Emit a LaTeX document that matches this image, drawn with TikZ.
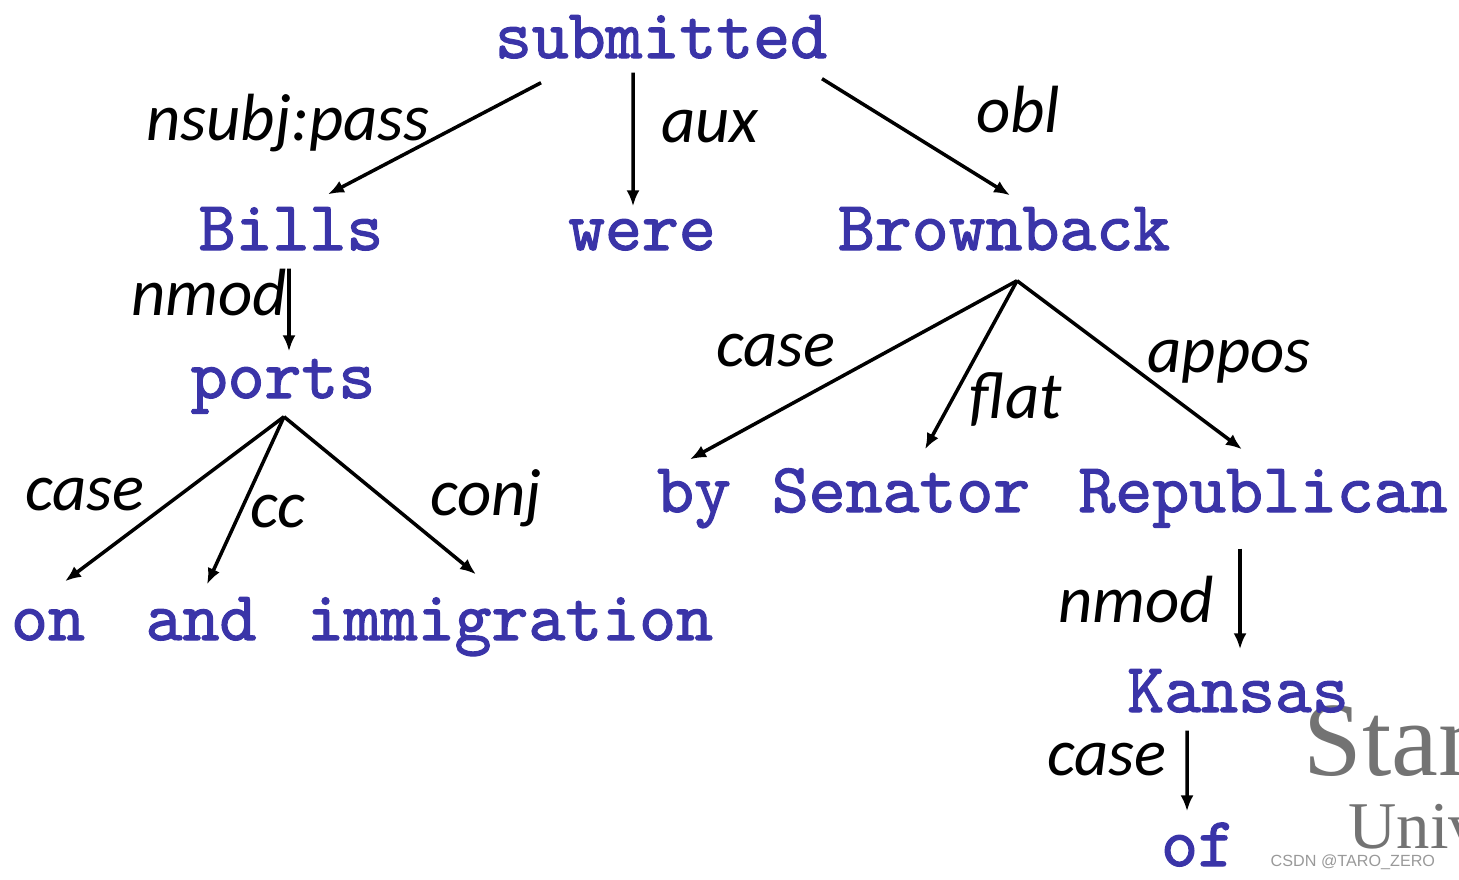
\documentclass[tikz,border=0pt]{standalone}
\usepackage{fontspec}
\usepackage{xcolor}
\usetikzlibrary{arrows.meta}
\newfontfamily\wordfont{lmmono10-regular.otf}[FakeBold=1.6]
\newfontfamily\relfont{Carlito}
\newfontfamily\logofont{Liberation Serif}
\newfontfamily\markfont{Liberation Sans}
\definecolor{wordblue}{RGB}{58,52,168}

\begin{document}
\begin{tikzpicture}[
			word/.style={anchor=base, inner sep=0pt, text height=0.42cm, text depth=0.14cm, text=wordblue, font=\wordfont\fontsize{20}{22}\selectfont},
			rel/.style={anchor=base, inner sep=0pt, font=\relfont\itshape\fontsize{19}{22}\selectfont},
			arr/.style={-{Latex[length=1.6mm,width=1.3mm]}, line width=1pt}
		]
		\useasboundingbox (0,0) rectangle (14.59,-8.79);
		\clip (0,0) rectangle (14.59,-8.79);

		\node[anchor=base west, inner sep=0pt, text=black!55, font=\logofont\fontsize{30}{32}\selectfont] (logoA) at (13.03,-7.75) {Stanford};
		\node[anchor=base west, inner sep=0pt, text=black!55, font=\logofont\fontsize{19}{22}\selectfont] (logoB) at (13.48,-8.48) {University};

		\node[word] (submitted) at (6.61,-0.58) {submitted};
		\node[word] (Bills) at (2.91,-2.50) {Bills};
		\node[word] (were) at (6.42,-2.50) {were};
		\node[word] (Brownback) at (10.04,-2.50) {Brownback};
		\node[word] (ports) at (2.83,-3.98) {ports};
		\node[word] (by) at (6.94,-5.12) {by};
		\node[word] (Senator) at (9.01,-5.12) {Senator};
		\node[word] (Republican) at (12.63,-5.12) {Republican};
		\node[word] (on) at (0.48,-6.40) {on};
		\node[word] (and) at (2.01,-6.40) {and};
		\node[word] (immigration) at (5.10,-6.40) {immigration};
		\node[word] (Kansas) at (12.38,-7.12) {Kansas};
		\node[word] (of) at (11.98,-8.66) {of};

		\node[rel] (lnsubj) at (2.88,-1.40) {nsubj:pass};
		\node[rel] (laux) at (7.10,-1.42) {aux};
		\node[rel] (lobl) at (10.18,-1.32) {obl};
		\node[rel] (lnmodA) at (2.09,-3.15) {nmod};
		\node[rel] (lcaseA) at (7.76,-3.66) {case};
		\node[rel] (lflat) at (10.16,-4.18) {flat};
		\node[rel] (lappos) at (12.29,-3.72) {appos};
		\node[rel] (lcaseB) at (0.85,-5.10) {case};
		\node[rel] (lcc) at (2.78,-5.27) {cc};
		\node[rel] (lconj) at (4.86,-5.15) {conj};
		\node[rel] (lnmodB) at (11.36,-6.22) {nmod};
		\node[rel] (lcaseC) at (11.07,-7.75) {case};

		\coordinate (bbfoot) at ([shift={(0.13,-0.16)}]Brownback.south);
		\coordinate (ptfoot) at ([shift={(0.01,-0.04)}]ports.south);

		\draw[arr] ([shift={(-1.20,-0.10)}]submitted.south) -- ([shift={(0.37,0.13)}]Bills.north);
		\draw[arr] ([shift={(-0.28,0)}]submitted.south) -- ([shift={(-0.09,0.01)}]were.north);
		\draw[arr] ([shift={(1.61,-0.06)}]submitted.south) -- ([shift={(0.06,0.12)}]Brownback.north);
		\draw[arr] ([shift={(-0.02,-0.04)}]Bills.south) -- ([shift={(0.06,0.04)}]ports.north);

		\draw[arr] (bbfoot) -- ([shift={(-0.04,0.10)}]by.north);
		\draw[arr] (bbfoot) -- ([shift={(0.24,0.20)}]Senator.north);
		\draw[arr] (bbfoot) -- ([shift={(-0.21,0.20)}]Republican.north);

		\draw[arr] (ptfoot) -- ([shift={(0.17,0.16)}]on.north);
		\draw[arr] (ptfoot) -- ([shift={(0.06,0.13)}]and.north);
		\draw[arr] (ptfoot) -- ([shift={(-0.34,0.23)}]immigration.north);

		\draw[arr] ([shift={(-0.23,-0.22)}]Republican.south) -- ([shift={(0.02,0.20)}]Kansas.north);
		\draw[arr] ([shift={(-0.51,-0.04)}]Kansas.south) -- ([shift={(-0.11,0.12)}]of.north);

		\node[anchor=base west, inner sep=0pt, text=black!40, font=\markfont\fontsize{4.6}{5}\selectfont] (mark) at (12.70,-8.66) {CSDN @TARO\_ZERO};

	\end{tikzpicture}
\end{document}
